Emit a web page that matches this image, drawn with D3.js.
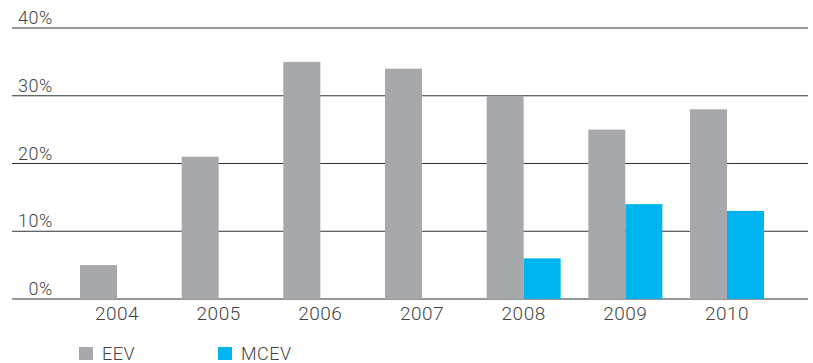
<!DOCTYPE html>
<html><head><meta charset="utf-8">
<script src="https://cdn.jsdelivr.net/npm/d3@7"></script>
<style>
body{margin:0;background:#fff;}
text{font-family:Roboto,"Open Sans",sans-serif;font-weight:300;fill:#444;}
</style></head>
<body><svg id="chart" width="813" height="363"></svg>
<script>
const years = ["2004","2005","2006","2007","2008","2009","2010"];
const eev = [5,21,35,34,30,25,28];
const mcev = [null,null,null,null,6,14,13];
const yTicks = [0,10,20,30,40];
const seriesNames = ["EEV","MCEV"];
const colors = ["#a7a8ac","#00b5ef"];

const svg = d3.select("#chart");
const y = d3.scaleLinear().domain([0,40]).range([299,28]);
const x = d3.scaleBand().domain(years).range([80,764]).paddingInner(0.272).paddingOuter(0);
const xs = d3.scaleBand().domain(seriesNames).range([0,x.bandwidth()]);

// gridlines
svg.append("g").selectAll("line").data(yTicks).join("line")
  .attr("x1",12).attr("x2",808)
  .attr("y1",d=>y(d)).attr("y2",d=>y(d))
  .attr("stroke","#333").attr("stroke-width",1);

svg.append("g").selectAll("text").data(yTicks).join("text")
  .attr("x",53).attr("y",d=>y(d)-4).attr("text-anchor","end")
  .attr("font-size",18).attr("letter-spacing",0.6).text(d=>d+"%");

const data = [eev, mcev];
data.forEach((arr,si)=>{
  svg.append("g").selectAll("rect")
    .data(years.map((yr,i)=>({yr,v:arr[i]})).filter(d=>d.v!=null))
    .join("rect")
    .attr("x",d=>x(d.yr)+xs(seriesNames[si]))
    .attr("width",xs.bandwidth())
    .attr("y",d=>y(d.v))
    .attr("height",d=>y(0)-y(d.v))
    .attr("fill",colors[si]);
});

svg.append("g").selectAll("text").data(years).join("text")
  .attr("x",d=>x(d)+x.bandwidth()/2).attr("y",320)
  .attr("text-anchor","middle").attr("font-size",19).attr("letter-spacing",0.5).text(d=>d);

// legend
const legX = [79,218];
seriesNames.forEach((n,i)=>{
  svg.append("rect").attr("x",legX[i]).attr("y",347).attr("width",14).attr("height",13).attr("fill",colors[i]);
  svg.append("text").attr("x",legX[i]+23).attr("y",360).attr("font-size",18).attr("letter-spacing",0.5).text(n);
});
</script></body></html>
